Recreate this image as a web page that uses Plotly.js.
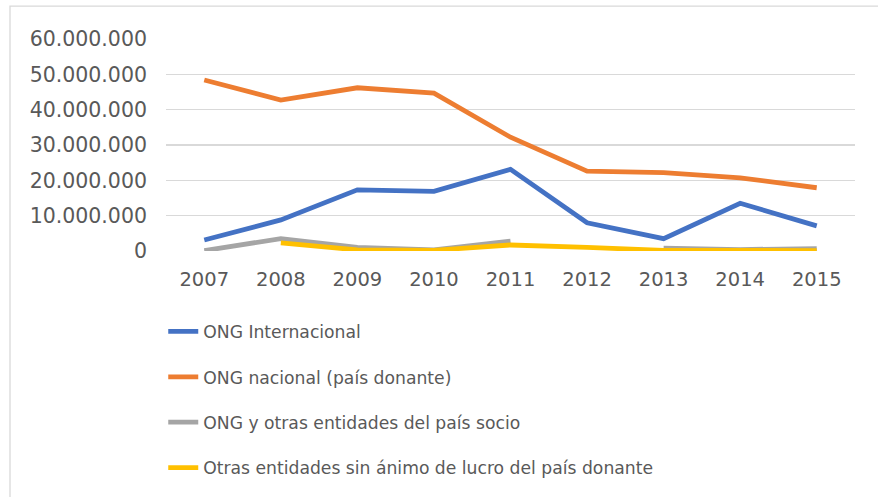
<!DOCTYPE html>
<html>
<head>
<meta charset="utf-8">
<script src="https://cdn.plot.ly/plotly-3.0.1.min.js"></script>
<style>html,body{margin:0;padding:0;background:#fff;}#chart{width:878px;height:497px;}</style>
</head>
<body>
<div id="chart"></div>
<script>
const years = ['2007','2008','2009','2010','2011','2012','2013','2014','2015'];
const seriesNames = [
  'ONG Internacional',
  'ONG nacional (país donante)',
  'ONG y otras entidades del país socio',
  'Otras entidades sin ánimo de lucro del país donante'
];
const ongInternacional = [3100000, 8800000, 17300000, 16900000, 23100000, 8000000, 3500000, 13500000, 7100000];
const ongNacional = [48400000, 42700000, 46200000, 44700000, 32200000, 22600000, 22200000, 20700000, 17900000];
const ongPaisSocio = [100000, 3500000, 1000000, 300000, 2800000, null, 800000, 400000, 700000];
const otrasEntidades = [null, 2300000, 300000, 200000, 1700000, 1000000, 200000, 200000, 100000];
const colors = ['#4472C4', '#ED7D31', '#A5A5A5', '#FFC000'];
const values = [ongInternacional, ongNacional, ongPaisSocio, otrasEntidades];

const traces = values.map((v, i) => ({
  type: 'scatter',
  mode: 'lines',
  x: years,
  y: v,
  name: seriesNames[i],
  legendgroup: 'g' + i,
  connectgaps: false,
  line: {color: colors[i], width: 4.8, shape: 'linear'},
  hoverinfo: 'x+y+name'
}));

const layout = {
  width: 878,
  height: 497,
  margin: {l: 166, r: 23, t: 39, b: 245, pad: 0},
  paper_bgcolor: '#ffffff',
  plot_bgcolor: '#ffffff',
  separators: ',.',
  font: {family: 'DejaVu Sans, Verdana, sans-serif', color: '#595959'},
  showlegend: true,
  legend: {
    orientation: 'v',
    x: -0.004,
    xanchor: 'left',
    y: -0.29,
    yanchor: 'top',
    traceorder: 'grouped',
    tracegroupgap: 20,
    font: {size: 17.2, color: '#595959', family: 'DejaVu Sans, Verdana, sans-serif'},
    bgcolor: 'rgba(0,0,0,0)'
  },
  xaxis: {
    type: 'category',
    range: [-0.5, 8.5],
    showgrid: false,
    zeroline: false,
    showline: false,
    ticks: '',
    ticklabelstandoff: 14,
    tickfont: {size: 19.5, color: '#595959'},
    fixedrange: true
  },
  yaxis: {
    range: [0, 60000000],
    dtick: 10000000,
    tickformat: ',d',
    showgrid: true,
    gridcolor: '#d9d9d9',
    gridwidth: 1.3,
    zeroline: false,
    showline: false,
    ticks: '',
    ticklabelstandoff: 18,
    tickfont: {size: 20.5, color: '#595959'},
    fixedrange: true
  },
  shapes: [{
    type: 'rect', xref: 'paper', yref: 'paper',
    x0: -0.2264, x1: 1.04, y0: -1.2, y1: 1.155,
    line: {color: '#d9d9d9', width: 1.3},
    fillcolor: 'rgba(0,0,0,0)',
    layer: 'below'
  }]
};

Plotly.newPlot('chart', traces, layout, {displayModeBar: false, staticPlot: true});
</script>
</body>
</html>
